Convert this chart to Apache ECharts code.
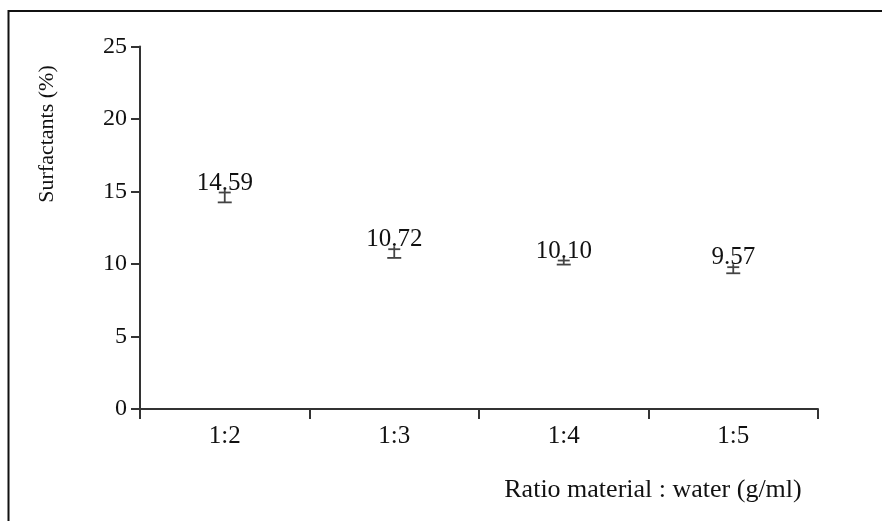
<!DOCTYPE html>
<html>
<head>
<meta charset="utf-8">
<style>html,body{margin:0;padding:0;background:#fff;}#c{width:882px;height:521px;}</style>
<script src="https://cdn.jsdelivr.net/npm/echarts@6/dist/echarts.min.js"></script>
</head>
<body>
<div id="c"></div>
<script>
const categories = ['1:2', '1:3', '1:4', '1:5'];
const means = [14.59, 10.72, 10.10, 9.57];
const errors = [0.34, 0.30, 0.14, 0.21];
const labels = ['14.59', '10.72', '10.10', '9.57'];
const yTicks = [0, 5, 10, 15, 20, 25];
const xTitle = 'Ratio material : water (g/ml)';
const yTitle = 'Surfactants (%)';

const FONT = '"Liberation Serif", "Times New Roman", serif';
const chart = echarts.init(document.getElementById('c'), null, {renderer: 'canvas'});

const data = categories.map((c, i) => [i, means[i], means[i] + errors[i], means[i] - errors[i], labels[i]]);

chart.setOption({
  animation: false,
  backgroundColor: '#fff',
  grid: {left: 140, right: 64, top: 46.5, bottom: 112},
  xAxis: {
    type: 'category',
    data: categories,
    boundaryGap: true,
    axisLine: {lineStyle: {color: '#333', width: 2}},
    axisTick: {show: true, length: 10, alignWithLabel: false, lineStyle: {color: '#333', width: 2}},
    axisLabel: {color: '#111', fontFamily: FONT, fontSize: 25, margin: 15},
    splitLine: {show: false}
  },
  yAxis: {
    type: 'value',
    min: yTicks[0],
    max: yTicks[yTicks.length - 1],
    interval: yTicks[1] - yTicks[0],
    axisLine: {show: true, lineStyle: {color: '#333', width: 2}},
    axisTick: {show: true, length: 9, lineStyle: {color: '#333', width: 2}},
    axisLabel: {color: '#111', fontFamily: FONT, fontSize: 24, margin: 13},
    splitLine: {show: false}
  },
  graphic: [
    {type: 'rect', shape: {x: 8.5, y: 11, width: 1000, height: 1000}, style: {fill: 'none', stroke: '#111', lineWidth: 2}, silent: true},
    {type: 'text', x: 47, y: 134, rotation: Math.PI / 2, style: {text: yTitle, font: '22px ' + FONT, fill: '#111', textAlign: 'center', textVerticalAlign: 'middle'}},
    {type: 'text', x: 653, y: 490, style: {text: xTitle, font: '26px ' + FONT, fill: '#111', textAlign: 'center', textVerticalAlign: 'middle'}}
  ],
  series: [{
    type: 'custom',
    data: data,
    renderItem: function (params, api) {
      const x = api.coord([api.value(0), api.value(1)])[0];
      const hi = api.coord([api.value(0), api.value(2)])[1];
      const lo = api.coord([api.value(0), api.value(3)])[1];
      const st = {stroke: '#444', lineWidth: 1.8};
      return {
        type: 'group',
        children: [
          {type: 'line', shape: {x1: x, y1: hi - 3, x2: x, y2: lo}, style: st},
          {type: 'line', shape: {x1: x - 6, y1: hi, x2: x + 6, y2: hi}, style: st},
          {type: 'line', shape: {x1: x - 7, y1: lo, x2: x + 7, y2: lo}, style: st},
          {type: 'text', x: x, y: hi + 3, style: {text: labels[params.dataIndex], font: '25px ' + FONT, fill: '#111', textAlign: 'center', textVerticalAlign: 'bottom'}}
        ]
      };
    }
  }]
});
</script>
</body>
</html>
